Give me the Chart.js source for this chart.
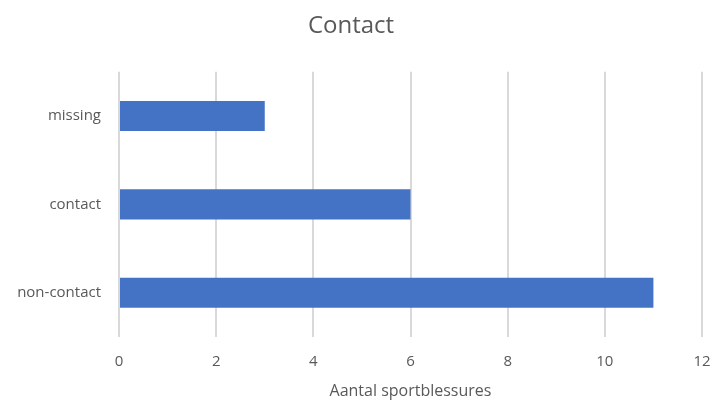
<!DOCTYPE html>
<html lang="nl">
<head>
  <meta charset="UTF-8">
  <title>Contact</title>
  <script src="https://cdn.jsdelivr.net/npm/chart.js"></script>
  <style>
    html, body { margin: 0; padding: 0; background: #fff; }
    #wrap { width: 715px; height: 405px; }
  </style>
</head>
<body>
  <div id="wrap"><canvas id="chart"></canvas></div>
  <script>
    const categories = ['missing', 'contact', 'non-contact'];
    const injuries = [3, 6, 11];
    const xTicks = [0, 2, 4, 6, 8, 10, 12];

    const textColor = '#595959';
    const fontFamily = "'Open Sans', 'Liberation Sans', sans-serif";

    new Chart(document.getElementById('chart'), {
      type: 'bar',
      data: {
        labels: categories,
        datasets: [{
          label: 'Aantal',
          data: injuries,
          backgroundColor: '#4472C4',
          barPercentage: 0.68,
          categoryPercentage: 0.5
        }]
      },
      options: {
        indexAxis: 'y',
        responsive: true,
        maintainAspectRatio: false,
        animation: false,
        layout: { padding: { left: 0, right: 13, top: 0, bottom: 0 } },
        plugins: {
          legend: { display: false },
          tooltip: { enabled: false },
          title: {
            display: true,
            text: 'Contact',
            color: textColor,
            font: { family: fontFamily, size: 24, weight: 'normal' },
            padding: { top: 12, bottom: 31 }
          }
        },
        scales: {
          x: {
            min: 0,
            max: 12,
            afterBuildTicks: scale => {
              scale.ticks = xTicks.map(v => ({ value: v }));
            },
            afterFit: scale => { scale.height = 68; },
            // invisible tick marks give the gap below the plot
            grid: { color: '#d9d9d9', lineWidth: 2, tickColor: 'rgba(0,0,0,0)', tickLength: 16 },
            border: { display: false },
            ticks: {
              color: textColor,
              padding: 0,
              font: { family: fontFamily, size: 15 }
            },
            title: {
              display: true,
              text: 'Aantal sportblessures',
              color: textColor,
              font: { family: fontFamily, size: 16 },
              padding: { top: 6 }
            }
          },
          y: {
            afterFit: scale => { scale.width = 119; },
            grid: { display: false, drawTicks: false },
            border: { display: false },
            ticks: {
              color: textColor,
              padding: 18,
              font: { family: fontFamily, size: 15 }
            }
          }
        }
      }
    });
  </script>
</body>
</html>
